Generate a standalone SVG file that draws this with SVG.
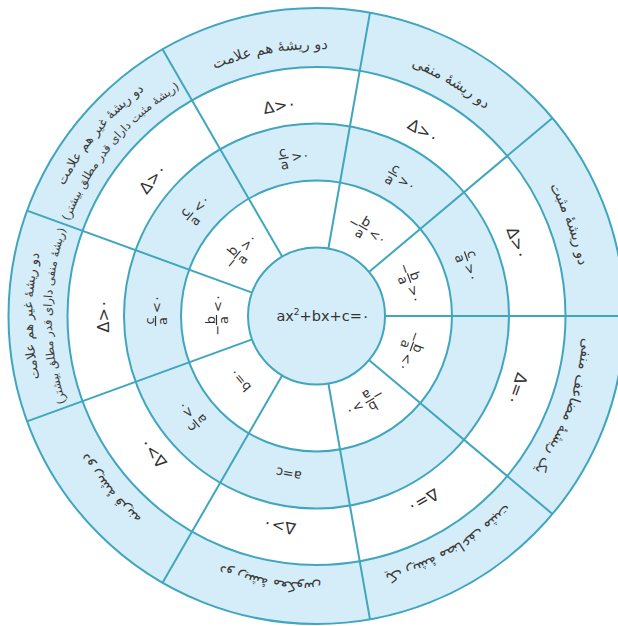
<svg xmlns="http://www.w3.org/2000/svg" width="618" height="626" viewBox="0 0 618 626">
<defs>
<path id="arcO" d="M-91.32,-250.90 A267,267 0 0 1 91.32,-250.90"/>
<path id="arcL1" d="M-97.13,-266.87 A284,284 0 0 1 97.13,-266.87"/>
<path id="arcL2" d="M-90.64,-249.02 A265,265 0 0 1 90.64,-249.02"/>
</defs>
<style>
.ring{stroke:#40a6be;stroke-width:2}
.blue{fill:#d5edf8}
.white{fill:#ffffff}
.rad{stroke:#40a6be;stroke-width:2;fill:none}
.lbl{font-family:"DejaVu Sans",sans-serif;font-size:14.5px;fill:#3a3a3a;text-anchor:middle}
.lb1{font-family:"DejaVu Sans",sans-serif;font-size:13px;fill:#3a3a3a;text-anchor:middle}
.lbs{font-family:"DejaVu Sans",sans-serif;font-size:11.5px;fill:#3a3a3a;text-anchor:middle}
.m{font-family:"DejaVu Sans",sans-serif;font-size:16px;fill:#333;text-anchor:middle}
.f{font-family:"DejaVu Sans",sans-serif;font-size:13px;fill:#333;text-anchor:middle}
.fs{font-family:"DejaVu Sans",sans-serif;font-size:13px;fill:#333;text-anchor:start}
.bar{stroke:#333;stroke-width:1.2}
</style>
<g id="rings">
<circle class="ring blue" cx="316.5" cy="316" r="308"/>
<circle class="ring white" cx="316.5" cy="316" r="249"/>
<circle class="ring blue" cx="316.5" cy="316" r="192.5"/>
<circle class="ring white" cx="316.5" cy="316" r="135.5"/>
</g>
<g id="connectors" transform="translate(316.5 316)">
<line class="rad" x1="68.5" y1="0" x2="308" y2="0"/>
<line class="rad" x1="68.5" y1="0" x2="308" y2="0" transform="rotate(-40)"/>
<line class="rad" x1="68.5" y1="0" x2="308" y2="0" transform="rotate(-80)"/>
<line class="rad" x1="68.5" y1="0" x2="308" y2="0" transform="rotate(-120)"/>
<line class="rad" x1="68.5" y1="0" x2="308" y2="0" transform="rotate(-160)"/>
<line class="rad" x1="68.5" y1="0" x2="308" y2="0" transform="rotate(-200)"/>
<line class="rad" x1="68.5" y1="0" x2="308" y2="0" transform="rotate(-240)"/>
<line class="rad" x1="68.5" y1="0" x2="308" y2="0" transform="rotate(-280)"/>
<line class="rad" x1="68.5" y1="0" x2="308" y2="0" transform="rotate(-320)"/>
</g>
<g id="center">
<circle class="ring blue" cx="316.5" cy="316" r="68.5"/>
<text class="m" x="323" y="321" style="font-size:14.5px">ax<tspan dy="-6" style="font-size:9px">2</tspan><tspan dy="6">+bx+c=۰</tspan></text>
</g>

<!-- S0 : 20deg -->
<g id="s0" transform="translate(316.5 316) rotate(70)">
<text class="lbl"><textPath href="#arcO" startOffset="50%">دو ریشهٔ مثبت</textPath></text>
<g transform="translate(0 -214)"><text class="m" y="6">Δ&gt;۰</text></g>
<g transform="translate(0 -161)"><line class="bar" x1="-10" y1="0" x2="0" y2="0"/><text class="f" x="-5" y="-2">c</text><text class="f" x="-5" y="11">a</text><text class="fs" x="3" y="5">&gt;۰</text></g>
<g transform="translate(0 -100)"><text class="f" x="-14" y="5">−</text><line class="bar" x1="-9" y1="0" x2="1" y2="0"/><text class="f" x="-4" y="-2">b</text><text class="f" x="-4" y="11">a</text><text class="fs" x="4" y="5">&gt;۰</text></g>
</g>
<!-- S1 : 60deg -->
<g id="s1" transform="translate(316.5 316) rotate(30)">
<text class="lbl"><textPath href="#arcO" startOffset="50%">دو ریشهٔ منفی</textPath></text>
<g transform="translate(0 -214)"><text class="m" y="6">Δ&gt;۰</text></g>
<g transform="translate(0 -161)"><line class="bar" x1="-10" y1="0" x2="0" y2="0"/><text class="f" x="-5" y="-2">c</text><text class="f" x="-5" y="11">a</text><text class="fs" x="3" y="5">&gt;۰</text></g>
<g transform="translate(0 -100)"><text class="f" x="-14" y="5">−</text><line class="bar" x1="-9" y1="0" x2="1" y2="0"/><text class="f" x="-4" y="-2">b</text><text class="f" x="-4" y="11">a</text><text class="fs" x="4" y="5">&lt;۰</text></g>
</g>
<!-- S2 : 100deg -->
<g id="s2" transform="translate(316.5 316) rotate(-10)">
<text class="lbl"><textPath href="#arcO" startOffset="50%">دو ریشهٔ هم علامت</textPath></text>
<g transform="translate(0 -214)"><text class="m" y="6">Δ&gt;۰</text></g>
<g transform="translate(0 -161)"><line class="bar" x1="-10" y1="0" x2="0" y2="0"/><text class="f" x="-5" y="-2">c</text><text class="f" x="-5" y="11">a</text><text class="fs" x="3" y="5">&gt;۰</text></g>
</g>
<!-- S3 : 140deg -->
<g id="s3" transform="translate(316.5 316) rotate(-50)">
<text class="lb1"><textPath href="#arcL1" startOffset="50%">دو ریشهٔ غیر هم علامت</textPath></text>
<text class="lbs"><textPath href="#arcL2" startOffset="50%">(ریشهٔ مثبت دارای قدر مطلق بیشتر)</textPath></text>
<g transform="translate(0 -214)"><text class="m" y="6">Δ&gt;۰</text></g>
<g transform="translate(0 -161)"><line class="bar" x1="-10" y1="0" x2="0" y2="0"/><text class="f" x="-5" y="-2">c</text><text class="f" x="-5" y="11">a</text><text class="fs" x="3" y="5">&lt;۰</text></g>
<g transform="translate(0 -100)"><text class="f" x="-14" y="5">−</text><line class="bar" x1="-9" y1="0" x2="1" y2="0"/><text class="f" x="-4" y="-2">b</text><text class="f" x="-4" y="11">a</text><text class="fs" x="4" y="5">&gt;۰</text></g>
</g>
<!-- S4 : 180deg -->
<g id="s4" transform="translate(316.5 316) rotate(-90)">
<text class="lb1"><textPath href="#arcL1" startOffset="50%">دو ریشهٔ غیر هم علامت</textPath></text>
<text class="lbs"><textPath href="#arcL2" startOffset="50%">(ریشهٔ منفی دارای قدر مطلق بیشتر)</textPath></text>
<g transform="translate(0 -214)"><text class="m" y="6">Δ&gt;۰</text></g>
<g transform="translate(0 -161)"><line class="bar" x1="-10" y1="0" x2="0" y2="0"/><text class="f" x="-5" y="-2">c</text><text class="f" x="-5" y="11">a</text><text class="fs" x="3" y="5">&lt;۰</text></g>
<g transform="translate(0 -100)"><text class="f" x="-14" y="5">−</text><line class="bar" x1="-9" y1="0" x2="1" y2="0"/><text class="f" x="-4" y="-2">b</text><text class="f" x="-4" y="11">a</text><text class="fs" x="4" y="5">&lt;۰</text></g>
</g>
<!-- S5 : 220deg -->
<g id="s5" transform="translate(316.5 316) rotate(-130)">
<text class="lbl"><textPath href="#arcO" startOffset="50%">دو ریشهٔ قرینه</textPath></text>
<g transform="translate(0 -214)"><text class="m" y="6">Δ&gt;۰</text></g>
<g transform="translate(0 -161)"><line class="bar" x1="-10" y1="0" x2="0" y2="0"/><text class="f" x="-5" y="-2">c</text><text class="f" x="-5" y="11">a</text><text class="fs" x="3" y="5">&lt;۰</text></g>
<g transform="translate(0 -100)"><text class="f" y="5">b=۰</text></g>
</g>
<!-- S6 : 260deg -->
<g id="s6" transform="translate(316.5 316) rotate(-170)">
<text class="lbl"><textPath href="#arcO" startOffset="50%">دو ریشهٔ معکوس</textPath></text>
<g transform="translate(0 -214)"><text class="m" y="6">Δ&gt;۰</text></g>
<g transform="translate(0 -161)"><text class="f" y="5">a=c</text></g>
</g>
<!-- S7 : 300deg -->
<g id="s7" transform="translate(316.5 316) rotate(150)">
<text class="lbl"><textPath href="#arcO" startOffset="50%">یک ریشهٔ مضاعف مثبت</textPath></text>
<g transform="translate(0 -214)"><text class="m" y="6">Δ=۰</text></g>
<g transform="translate(0 -100)"><text class="f" x="-14" y="5">−</text><line class="bar" x1="-9" y1="0" x2="1" y2="0"/><text class="f" x="-4" y="-2">b</text><text class="f" x="-4" y="11">a</text><text class="fs" x="4" y="5">&gt;۰</text></g>
</g>
<!-- S8 : 340deg -->
<g id="s8" transform="translate(316.5 316) rotate(110)">
<text class="lbl"><textPath href="#arcO" startOffset="50%">یک ریشهٔ مضاعف منفی</textPath></text>
<g transform="translate(0 -214)"><text class="m" y="6">Δ=۰</text></g>
<g transform="translate(0 -100)"><text class="f" x="-14" y="5">−</text><line class="bar" x1="-9" y1="0" x2="1" y2="0"/><text class="f" x="-4" y="-2">b</text><text class="f" x="-4" y="11">a</text><text class="fs" x="4" y="5">&lt;۰</text></g>
</g>
</svg>
